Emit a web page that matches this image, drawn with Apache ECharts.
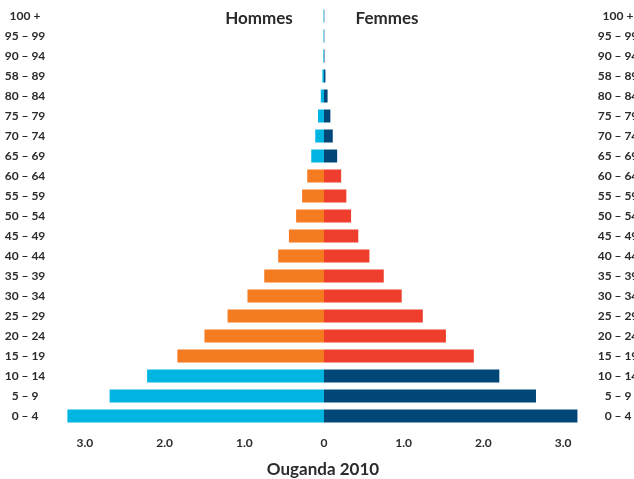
<!DOCTYPE html>
<html>
<head>
<meta charset="utf-8">
<script src="https://cdn.jsdelivr.net/npm/echarts@6/dist/echarts.min.js"></script>
<style>
  html, body { margin: 0; padding: 0; background: #fff; }
  #chart { width: 634px; height: 479px; }
</style>
</head>
<body>
<div id="chart"></div>
<script>
// tranches d'âge, du bas vers le haut
const ageGroups = ['0 – 4', '5 – 9', '10 – 14', '15 – 19', '20 – 24', '25 – 29', '30 – 34',
  '35 – 39', '40 – 44', '45 – 49', '50 – 54', '55 – 59', '60 – 64', '65 – 69', '70 – 74',
  '75 – 79', '80 – 84', '58 – 89', '90 – 94', '95 – 99', '100 +']
// millions
const hommes = [3.22, 2.69, 2.22, 1.84, 1.50, 1.21, 0.96, 0.75, 0.575, 0.44, 0.35, 0.275,
  0.21, 0.16, 0.11, 0.075, 0.04, 0.02, 0.008, 0.006, 0.006]
const femmes = [3.18, 2.66, 2.20, 1.88, 1.53, 1.24, 0.975, 0.75, 0.57, 0.43, 0.34, 0.28,
  0.215, 0.165, 0.11, 0.08, 0.045, 0.018, 0.006, 0.004, 0.004]
const tickValues = [-3, -2, -1, 0, 1, 2, 3]

const fontFamily = 'Lato, "Open Sans", sans-serif'
const textColor = '#2b2b2b'

// 0-14 et 65+ en bleu, 15-64 en orange / rouge
const isActive = i => i >= 3 && i <= 12

const chart = echarts.init(document.getElementById('chart'))
const option = {
  animation: false,
  textStyle: { fontFamily: fontFamily },
  title: [
    { text: 'Hommes', left: 259, top: 10, textAlign: 'center', padding: 0,
      textStyle: { fontSize: 17, fontWeight: 'bold', color: textColor, fontFamily: fontFamily } },
    { text: 'Femmes', left: 387, top: 10, textAlign: 'center', padding: 0,
      textStyle: { fontSize: 17, fontWeight: 'bold', color: textColor, fontFamily: fontFamily } },
    { text: 'Ouganda 2010', left: 323, top: 461, textAlign: 'center', padding: 0,
      textStyle: { fontSize: 17, fontWeight: 'bold', color: textColor, fontFamily: fontFamily } }
  ],
  grid: { left: 65, right: 51, top: 6, bottom: 53, containLabel: false, outerBoundsMode: 'none' },
  xAxis: {
    type: 'value',
    min: -3.25,
    max: 3.25,
    axisLine: { show: false },
    axisTick: { show: false },
    splitLine: { show: false },
    axisLabel: {
      customValues: tickValues,
      margin: 11,
      fontSize: 12,
      fontWeight: 'bold',
      color: textColor,
      fontFamily: fontFamily,
      formatter: v => v === 0 ? '0' : Math.abs(v).toFixed(1)
    }
  },
  yAxis: [
    {
      type: 'category',
      data: ageGroups,
      position: 'left',
      axisLine: { show: false },
      axisTick: { show: false },
      axisLabel: { margin: 40, align: 'center', fontSize: 12, fontWeight: 'bold', color: textColor, fontFamily: fontFamily }
    },
    {
      type: 'category',
      data: ageGroups,
      position: 'right',
      axisLine: { show: false },
      axisTick: { show: false },
      axisLabel: { margin: 35, align: 'center', fontSize: 12, fontWeight: 'bold', color: textColor, fontFamily: fontFamily }
    }
  ],
  series: [
    {
      name: 'Hommes',
      type: 'bar',
      yAxisIndex: 0,
      barWidth: 13,
      barGap: '-100%',
      data: hommes.map(v => -v),
      itemStyle: {
        color: p => isActive(p.dataIndex) ? '#F47B20' : '#00B5E2'
      }
    },
    {
      name: 'Femmes',
      type: 'bar',
      yAxisIndex: 0,
      barWidth: 13,
      barGap: '-100%',
      data: femmes,
      itemStyle: {
        color: p => isActive(p.dataIndex) ? '#EF3E2D' : '#004677'
      }
    }
  ]
}
chart.setOption(option)
</script>
</body>
</html>
